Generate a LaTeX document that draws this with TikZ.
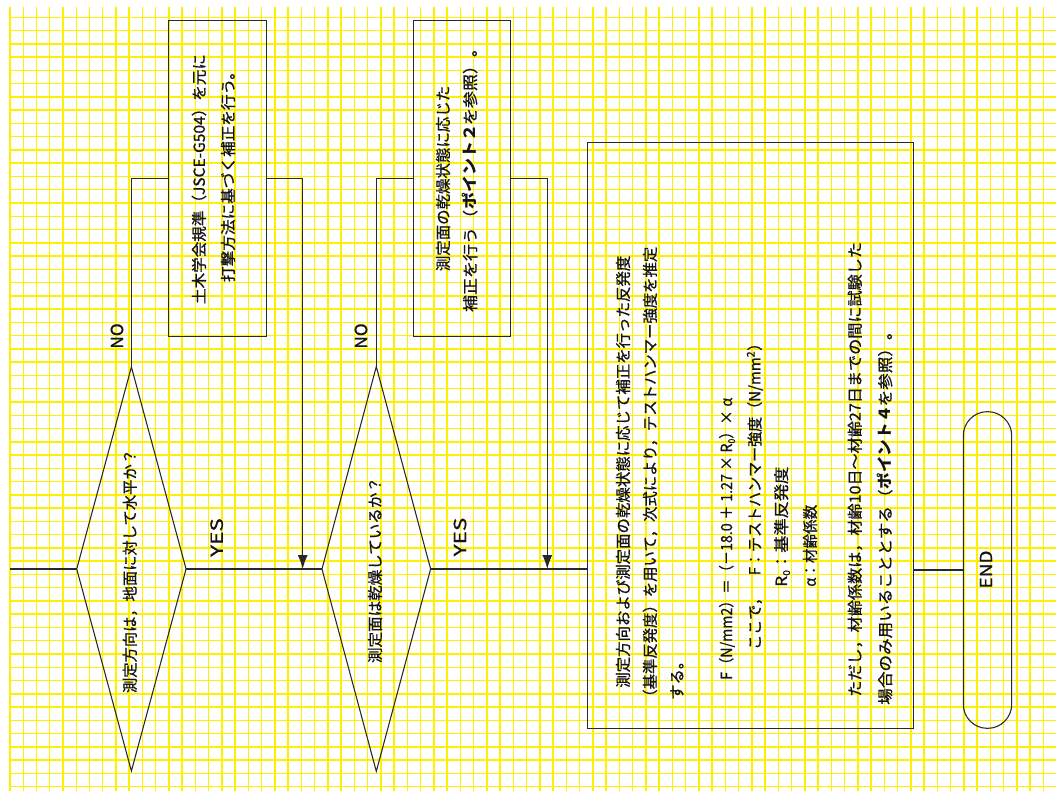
\documentclass[tikz,border=0pt]{standalone}
\usepackage{fontspec}
\setmainfont{Noto Sans CJK JP}[FakeBold=0.8, BoldFeatures={FakeBold=0}]
\usetikzlibrary{shapes.geometric,arrows.meta}
\definecolor{gridy}{RGB}{255,240,0}
\definecolor{ink}{RGB}{40,40,40}
\definecolor{tink}{RGB}{20,20,20}
\newcommand\fitw[2]{\resizebox{#1}{\height}{#2}}
\newcommand\subz{\raisebox{-0.35ex}{\fontsize{7pt}{8pt}\selectfont 0}}
\begin{document}
\begin{tikzpicture}[x=0.75pt,y=-0.75pt,
  gridline/.style={gridy, line width=1.1pt},
  conn/.style={ink, line width=0.8pt},
  arr/.style={conn, -{Latex[length=10.5pt,width=7.5pt]}},
  box/.style={draw=ink, line width=0.8pt, rectangle, inner sep=0pt, outer sep=0pt},
  dia/.style={draw=ink, line width=0.8pt, diamond, inner sep=0pt, outer sep=0pt},
  txt/.style={rotate=90, inner sep=0pt, text=tink, font=\fontsize{11.5pt}{13pt}\selectfont},
  lbl/.style={rotate=90, inner sep=0pt, text=tink, font=\fontsize{12.5pt}{14pt}\selectfont}
]
\useasboundingbox[fill=white] (0,0) rectangle (1056,798);
% grid
\foreach \i in {0,...,78} \draw[gridline] ({10+13.247*\i},7) -- ({10+13.247*\i},791);
\foreach \j in {0,...,58} \draw[gridline] (10,{17.3+13.265*\j}) -- (1056,{17.3+13.265*\j});

% shapes
\node[dia, minimum width=82pt, minimum height=303pt] (d1) at (131.4,569) {};
\node[dia, minimum width=81.5pt, minimum height=303.5pt] (d2) at (376.3,569) {};
\node[box, minimum width=73.3pt, minimum height=237pt] (b1) at (217.2,178.7) {};
\node[box, minimum width=73pt, minimum height=237pt] (b2) at (462,178.7) {};
\node[box, minimum width=244.5pt, minimum height=439.2pt] (big) at (750.3,435.5) {};
\node[box, rounded corners=18pt, minimum width=36.3pt, minimum height=237.5pt] (endn) at (987.5,570) {};

\coordinate (start) at (10,569);
\coordinate (j1) at (302.7,569);
\coordinate (j2) at (547.3,569);

% connectors
\draw[conn] (start) -- (d1.west);
\draw[conn] (d1.east) -- (d2.west);
\draw[conn] (d1.north) |- (b1.west);
\draw[arr] (b1.east) -| (j1);
\draw[conn] (d2.east) -- (d2.east -| big.west);
\draw[conn] (d2.north) |- (b2.west);
\draw[arr] (b2.east) -| (j2);
\draw[conn] (endn.west -| big.east) -- (endn.west);

% texts
\node[txt] (t1a) at (199,179) {\fitw{187.5pt}{土木学会規準（JSCE-G504）を元に}};
\node[txt] (t1b) at (228,173) {\fitw{163.5pt}{打撃方法に基づく補正を行う。}};
\node[txt] (t2a) at (443,178.5) {\fitw{139pt}{測定面の乾燥状態に応じた}};
\node[txt] (t2b) at (470,176) {\fitw{204pt}{補正を行う（\textbf{ポイント２}を参照）。}};
\node[txt] (td1) at (130,571) {\fitw{183pt}{測定方向は，地面に対して水平か？}};
\node[txt] (td2) at (375,570) {\fitw{139.5pt}{測定面は乾燥しているか？}};

\node[lbl] (no1) at (117,336) {\fitw{19pt}{NO}};
\node[lbl] (no2) at (361,336) {\fitw{19pt}{NO}};
\node[lbl] (yes1) at (216.7,537.5) {\fitw{29pt}{YES}};
\node[lbl] (yes2) at (460,537) {\fitw{29pt}{YES}};
\node[lbl] (endt) at (986,569.5) {\fitw{28.5pt}{END}};

\node[txt, anchor=west] (m1) at (623,688) {\fitw{324pt}{測定方向および測定面の乾燥状態に応じて補正を行った反発度}};
\node[txt, anchor=west] (m2) at (650,705) {\fitw{343.5pt}{（基準反発度）を用いて，次式により，テストハンマー強度を推定}};
\node[txt, anchor=west] (m3) at (677,700) {する。};
\node[txt, anchor=west] (m4) at (727,680) {\fitw{211.5pt}{F（N/mm2）＝（－18.0\hspace{3pt}＋\hspace{3pt}1.27\hspace{3pt}×\hspace{3pt}R\subz）×\hspace{3pt}α}};
\node[txt, anchor=west] (m5) at (755,650) {\fitw{235.5pt}{ここで，　F：テストハンマー強度（N/mm\textsuperscript{2}）}};
\node[txt, anchor=west] (m6) at (782,587) {\fitw{90pt}{R\subz：基準反発度}};
\node[txt, anchor=west] (m7) at (810,587) {\fitw{61.5pt}{α：材齢係数}};
\node[txt, anchor=west] (m8) at (855,697) {\fitw{341pt}{ただし，材齢係数は，材齢10日～材齢27日までの間に試験した}};
\node[txt, anchor=west] (m9) at (885,705) {\fitw{286pt}{場合のみ用いることとする（\textbf{ポイント４}を参照）。}};
\end{tikzpicture}
\end{document}
